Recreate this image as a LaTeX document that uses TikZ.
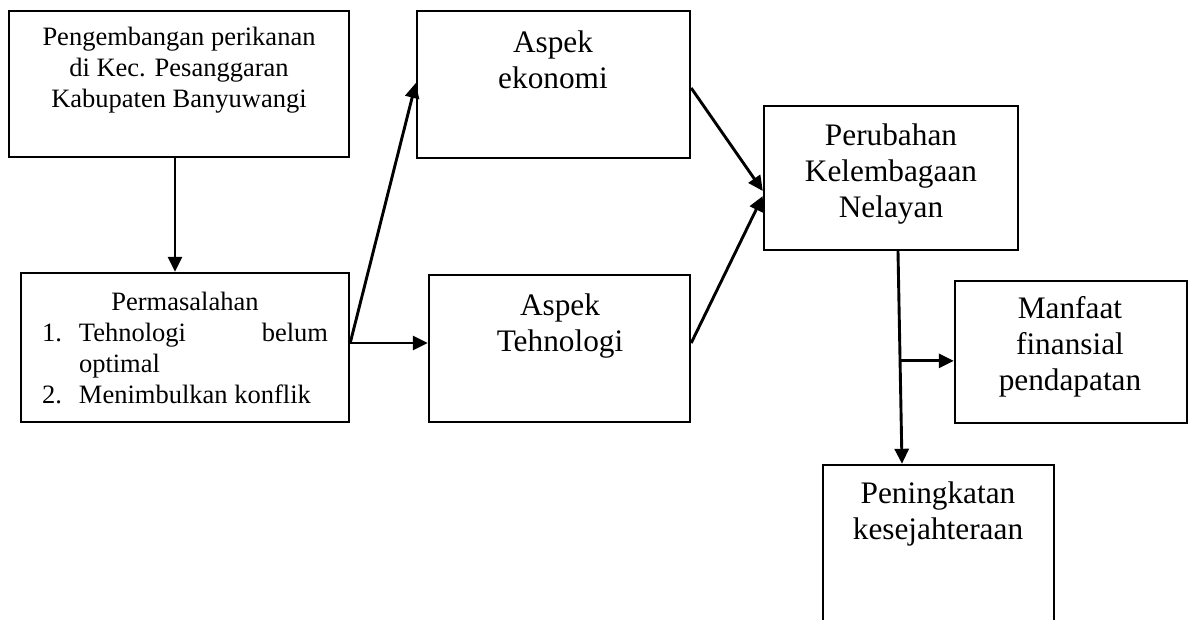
\documentclass[tikz,border=0pt]{standalone}
\usepackage{fontspec}
\setmainfont{Liberation Serif}
\usetikzlibrary{arrows.meta,calc}
\begin{document}
\begin{tikzpicture}[x=1pt,y=-1pt,
  box/.style={draw,line width=2.4pt,inner sep=0pt,minimum width=#1},
  txtsm/.style={inner sep=0pt,anchor=north,align=center,font=\fontsize{26.5pt}{31pt}\selectfont},
  txtbg/.style={inner sep=0pt,anchor=north,align=center,font=\fontsize{31.3pt}{36pt}\selectfont},
  arr/.style={line width=2.9pt,-{Triangle[length=15pt,width=14pt]}}]
\useasboundingbox (0,0) rectangle (1192,620);
\clip (0,0) rectangle (1192,620);
% boxes
\node[box=340pt,minimum height=146pt] (b1) at (179,84) {};
\node[box=328pt,minimum height=149pt] (b2) at (185,347.5) {};
\node[box=273pt,minimum height=147pt] (eko) at (553.5,84.5) {};
\node[box=261pt,minimum height=147pt] (tek) at (559.5,348.5) {};
\node[box=254pt,minimum height=144pt] (per) at (891,178) {};
\node[box=232pt,minimum height=142pt] (man) at (1071,352) {};
\node[box=231pt,minimum height=175pt] (pen) at (938.5,552.5) {};
% texts
\node[txtsm] (t1) at (179,23.3) {\strut Pengembangan perikanan\\di Kec. Pesanggaran\\Kabupaten Banyuwangi};
\node[txtsm,align=left] (t2) at (185,288.3) {\strut\makebox[286pt][c]{Permasalahan}\\
\makebox[37pt][l]{1.}\makebox[249pt][s]{Tehnologi\hfill belum}\\
\makebox[37pt][l]{}optimal\\
\makebox[37pt][l]{2.}Menimbulkan konflik};
\node[txtbg] (t3) at (553,26.8) {\strut Aspek\\ekonomi};
\node[txtbg] (t4) at (560,289.8) {\strut Aspek\\Tehnologi};
\node[txtbg] (t5) at (891,119.8) {\strut Perubahan\\Kelembagaan\\Nelayan};
\node[txtbg] (t6) at (1070,292.8) {\strut Manfaat\\finansial\\pendapatan};
\node[txtbg] (t7) at (938,477.8) {\strut Peningkatan\\kesejahteraan};
% connectors
\draw[arr] ([xshift=-4pt]b1.south) -- ([xshift=-10pt]b2.north);
\coordinate (p) at ([yshift=4.5pt]b2.east);
\draw[arr] (p) -- ([yshift=1.5pt]eko.west);
\draw[arr] (p) -- (p -| tek.west);
\draw[arr] ([yshift=-3.5pt]eko.east) -- ([yshift=-13pt]per.west);
\draw[arr] ([yshift=5.5pt]tek.east) -- ([yshift=-18pt]per.west);
\coordinate (ps) at ([xshift=7pt]per.south);
\coordinate (pe) at ([xshift=-36.5pt]pen.north);
\draw[arr] (ps) -- (pe);
\coordinate (br) at ($(ps)!0.516!(pe)$);
\draw[arr] (br) -- (br -| man.west);
\end{tikzpicture}
\end{document}
